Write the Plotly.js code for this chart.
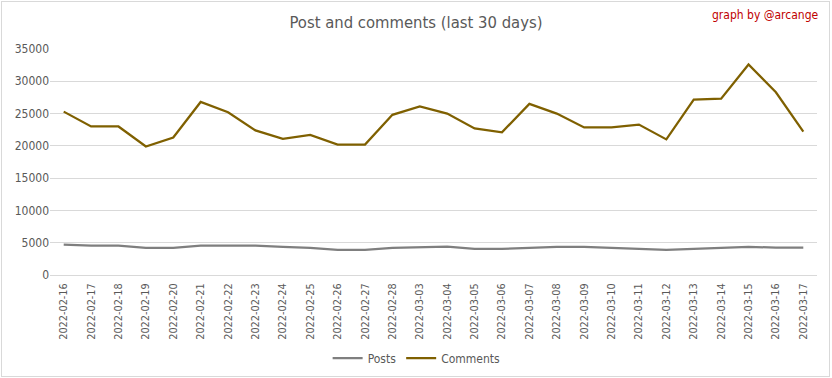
<!DOCTYPE html>
<html>
<head>
<meta charset="utf-8">
<script src="https://cdn.plot.ly/plotly-3.0.1.min.js"></script>
<style>
  body { margin: 0; background: #fff; }
  #wrap { position: relative; width: 832px; height: 378px; }
  #chart { width: 832px; height: 378px; }
  #frame { position: absolute; left: 1px; top: 1px; width: 827px; height: 374px; border: 1px solid #d9d9d9; pointer-events: none; }
</style>
</head>
<body>
<div id="wrap"><div id="chart"></div><div id="frame"></div></div>
<script>
const dates = [
  "2022-02-16","2022-02-17","2022-02-18","2022-02-19","2022-02-20","2022-02-21","2022-02-22",
  "2022-02-23","2022-02-24","2022-02-25","2022-02-26","2022-02-27","2022-02-28",
  "2022-03-03","2022-03-04","2022-03-05","2022-03-06","2022-03-07","2022-03-08","2022-03-09",
  "2022-03-10","2022-03-11","2022-03-12","2022-03-13","2022-03-14","2022-03-15","2022-03-16","2022-03-17"
];
const posts = [
  4700,4550,4550,4200,4200,4550,4550,
  4550,4350,4200,3900,3900,4200,
  4350,4400,4050,4050,4200,4350,4350,
  4200,4050,3900,4050,4200,4350,4250,4250
];
const comments = [
  25300,23000,23000,19900,21300,26800,25200,
  22400,21100,21700,20200,20200,24800,
  26100,25000,22700,22100,26500,25000,22850,
  22850,23300,21000,27150,27300,32600,28300,22200
];
const yTicks = [0,5000,10000,15000,20000,25000,30000,35000];

const FONT = '"DejaVu Sans Condensed", "Liberation Sans Narrow", Arial, sans-serif';
const traces = [
  { type: 'scatter', mode: 'lines', name: 'Posts', x: dates, y: posts,
    line: { color: '#7f7f7f', width: 2.25 } },
  { type: 'scatter', mode: 'lines', name: 'Comments', x: dates, y: comments,
    line: { color: '#7f6000', width: 2.25 } }
];
const layout = {
  width: 832, height: 378,
  margin: { l: 50, r: 15, t: 49, b: 103, autoexpand: false },
  paper_bgcolor: '#ffffff', plot_bgcolor: '#ffffff',
  font: { family: FONT, color: '#595959', size: 12 },
  title: { text: 'Post and comments (last 30 days)', x: 0.5, xref: 'container',
           y: 1 - 22/378, yref: 'container', yanchor: 'middle',
           font: { family: FONT, size: 16.5, color: '#595959' } },
  xaxis: { type: 'category', range: [-0.5, dates.length - 0.5],
           tickangle: -90, tickfont: { size: 10.8, color: '#595959' },
           showgrid: false, showline: true, linecolor: '#d9d9d9', linewidth: 1,
           ticks: '', ticklen: 0, ticklabelstandoff: 3, fixedrange: true, automargin: false },
  yaxis: { range: [0, 35000], tickvals: yTicks, ticktext: yTicks.map(String),
           showgrid: true, gridcolor: '#d9d9d9', gridwidth: 1,
           zeroline: false, showline: false, ticks: '',
           tickfont: { size: 12, color: '#595959' }, fixedrange: true, automargin: false },
  showlegend: true,
  legend: { orientation: 'h', x: 0.478, xanchor: 'center', y: -(358-275)/226, yanchor: 'middle',
            font: { size: 12, color: '#595959' }, traceorder: 'normal' },
  annotations: [{
    text: 'graph by @arcange', xref: 'paper', yref: 'paper',
    x: (821-50)/767, xanchor: 'right', y: (275-15)/226, yanchor: 'middle',
    showarrow: false, font: { family: FONT, size: 12, color: '#c00000' }
  }]
};
Plotly.newPlot('chart', traces, layout, { displayModeBar: false, staticPlot: true });
</script>
</body>
</html>
